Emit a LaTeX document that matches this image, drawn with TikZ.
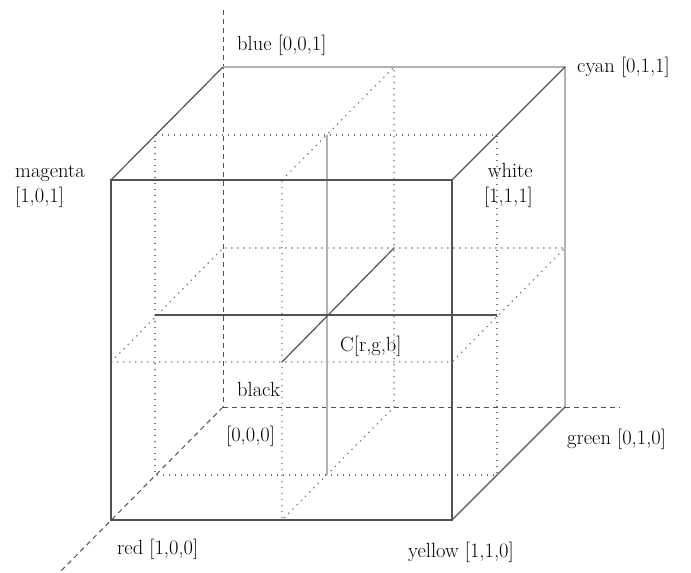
\documentclass[tikz,border=0pt]{standalone}
\begin{document}
\begin{tikzpicture}[x=1pt,y=-1pt,
  edge/.style={draw=black!68, line width=1.2pt},
  backedge/.style={draw=black!30, line width=2.2pt},
  axis/.style={draw=black!68, line width=1pt, dash pattern=on 5pt off 4pt},
  gridline/.style={draw=black!55, line width=1.1pt, dash pattern=on 1.4pt off 4.6pt},
  lbl/.style={inner sep=0pt, text=black, font=\fontsize{20.5}{24}\selectfont}]
\useasboundingbox (0,0) rectangle (691,573);

% cube corners
\coordinate (K)  at (223,407); % black
\coordinate (R)  at (111,520); % red
\coordinate (G)  at (565,407); % green
\coordinate (Y)  at (452,520); % yellow
\coordinate (B)  at (223,67);  % blue
\coordinate (M)  at (111,180); % magenta
\coordinate (Cy) at (565,67);  % cyan
\coordinate (W)  at (452,180); % white

% axis ends
\coordinate (zt) at (223,10);
\coordinate (yt) at (620,407);
\coordinate (xt) at (53,579);

% the point C and its cross lines
\coordinate (C)  at (327,315);
\coordinate (Ct) at (327,135);
\coordinate (Cb) at (327,475);
\coordinate (Cl) at (155,315);
\coordinate (Cr) at (497,315);
\coordinate (Cf) at (282,362);
\coordinate (Ck) at (394,248);

% dotted section planes
\draw[gridline] (155,135) rectangle (497,475);
\draw[gridline] (282,180) -- (394,67) -- (394,407) -- (282,520) -- cycle;
\draw[gridline] (111,362) -- (452,362) -- (565,248) -- (223,248) -- cycle;

% axes through black
\draw[axis] (zt) -- (K);
\draw[axis] (K) -- (yt);
\draw[axis] (K) -- (xt);

% back edges
\draw[backedge] (B) -- (Cy) -- (G);

% cross lines through C
\draw[backedge, line width=2pt] (Ct) -- (Cb);
\draw[edge] (Cl) -- (Cr);
\draw[edge] (Cf) -- (Ck);

% front face and depth edges
\draw[edge] (M) -- (W) -- (Y) -- (R) -- cycle;
\draw[edge] (M) -- (B);
\draw[edge] (W) -- (Cy);
\draw[edge] (Y) -- (G);

% labels
\node[lbl, anchor=base west] (lblue)    at (237,50)  {blue [0,0,1]};
\node[lbl, anchor=base west] (lcyan)    at (577,72)  {cyan [0,1,1]};
\node[lbl, anchor=base west] (lmag)     at (15,177)  {magenta};
\node[lbl, anchor=base west] (lmagv)    at (15,202)  {[1,0,1]};
\node[lbl, anchor=base east] (lwhite)   at (533,177) {white};
\node[lbl, anchor=base east] (lwhitev)  at (533,202) {[1,1,1]};
\node[lbl, anchor=base west] (lC)       at (340,351) {C[r,g,b]};
\node[lbl, anchor=base west] (lblack)   at (237,396) {black};
\node[lbl, anchor=base west] (lblackv)  at (226,441) {[0,0,0]};
\node[lbl, anchor=base west] (lgreen)   at (567,444) {green [0,1,0]};
\node[lbl, anchor=base west] (lred)     at (117,554) {red [1,0,0]};
\node[lbl, anchor=base west] (lyellow)  at (408,557) {yellow [1,1,0]};
\end{tikzpicture}
\end{document}
